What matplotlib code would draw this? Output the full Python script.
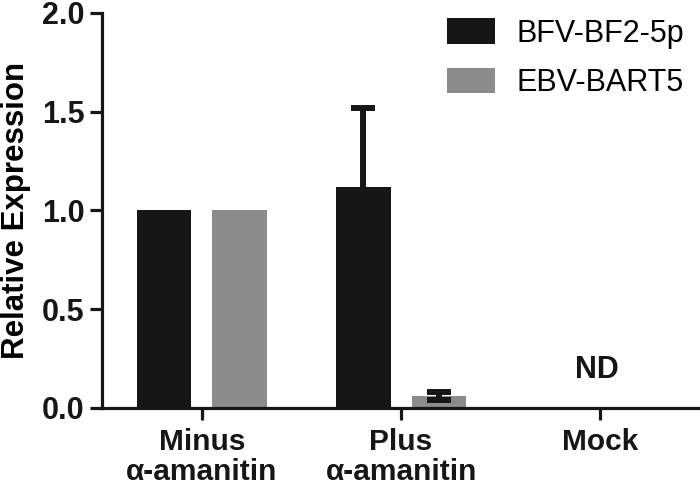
import matplotlib
matplotlib.use("Agg")
import matplotlib.pyplot as plt
import numpy as np

plt.rcParams['font.family'] = ['Liberation Sans', 'DejaVu Sans']

categories = ["Minus\nα-amanitin", "Plus\nα-amanitin", "Mock"]
series_names = ["BFV-BF2-5p", "EBV-BART5"]
bfv_values = [1.0, 1.12, 0.0]
bfv_err = [0.0, 0.40, 0.0]
ebv_values = [1.0, 0.06, 0.0]
ebv_err = [0.0, 0.02, 0.0]
yticks = [0.0, 0.5, 1.0, 1.5, 2.0]
ytick_labels = ["0.0", "0.5", "1.0", "1.5", "2.0"]

black = "#161616"
grey = "#8c8c8c"

fig = plt.figure(figsize=(7.0, 4.88), dpi=100)
ax = fig.add_axes([0.146, 0.164, 0.854, 0.81])

x = np.arange(len(categories))
w = 0.275
off = 0.19

ax.bar(x - off, bfv_values, width=w, color=black, zorder=2, label=series_names[0])
ax.bar(x + off, ebv_values, width=w, color=grey, zorder=2, label=series_names[1])

# upward-only error bar for BFV
e1 = np.array(bfv_err)
m1 = e1 > 0
eb1 = ax.errorbar((x - off)[m1], np.array(bfv_values)[m1],
                  yerr=[np.zeros(m1.sum()), e1[m1]], fmt='none', ecolor=black,
                  elinewidth=4.3, capsize=8.5, capthick=4.3, zorder=1)
eb1[1][0].set_visible(False)  # hide lower cap

e2 = np.array(ebv_err)
m2 = e2 > 0
ax.errorbar((x + off)[m2], np.array(ebv_values)[m2], yerr=e2[m2], fmt='none',
            ecolor=black, elinewidth=4.3, capsize=8.5, capthick=4.3, zorder=3)

ax.text(x[2] - 0.02, 0.19, "ND", ha='center', va='center', fontsize=22,
        fontweight='bold', color=black)

ax.set_xlim(-0.5, 2.5)
ax.set_ylim(0, 2.0)
ax.set_yticks(yticks)
ax.set_yticklabels(ytick_labels, fontsize=22, fontweight='bold')
ax.set_xticks(x)
ax.set_xticklabels(categories, fontsize=21.5, fontweight='bold', linespacing=1.08)
ax.set_ylabel("Relative Expression", fontsize=22.5, fontweight='bold', labelpad=8)

for s in ['top', 'right']:
    ax.spines[s].set_visible(False)
for s in ['left', 'bottom']:
    ax.spines[s].set_linewidth(2.3)
    ax.spines[s].set_color(black)
ax.tick_params(axis='both', width=2.3, length=8.5, color=black, labelcolor=black, pad=4)
ax.tick_params(axis='x', pad=6)

leg = ax.legend(loc='upper right', bbox_to_anchor=(1.02, 1.055), frameon=False,
                fontsize=22, handlelength=1.6, handleheight=0.9,
                handletextpad=0.7, labelspacing=0.62)

fig.savefig("out.png", dpi=100)
